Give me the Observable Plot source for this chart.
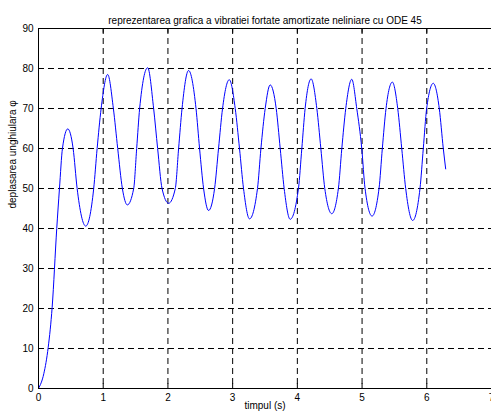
<!DOCTYPE html>
<html>
<head>
<meta charset="utf-8">
<script src="https://cdn.jsdelivr.net/npm/d3@7"></script>
<script src="https://cdn.jsdelivr.net/npm/@observablehq/plot@0.6"></script>
<style>
  html, body { margin: 0; padding: 0; background: #fff; }
  #chart svg { display: block; }
</style>
</head>
<body>
<div id="chart"></div>
<script>
const title = "reprezentarea grafica a vibratiei fortate amortizate neliniare cu ODE 45";
const xLabel = "timpul (s)";
const yLabel = "deplasarea unghiulara \u03C6";

const xTicks = [0, 1, 2, 3, 4, 5, 6, 7];
const yTicks = [0, 10, 20, 30, 40, 50, 60, 70, 80, 90];

const time = [
  0, 0.082, 0.150, 0.211, 0.282, 0.324, 0.370, 0.452,
  0.535, 0.597, 0.730, 0.853, 0.906, 0.968, 1.069,
  1.157, 1.224, 1.296, 1.373, 1.471, 1.517, 1.563, 1.687,
  1.779, 1.841, 1.909, 2.011, 2.114, 2.165, 2.218, 2.319,
  2.434, 2.489, 2.551, 2.628, 2.721, 2.782, 2.844, 2.948,
  3.040, 3.106, 3.168, 3.261, 3.384, 3.437, 3.503, 3.580,
  3.673, 3.735, 3.796, 3.889, 4.017, 4.069, 4.120, 4.213,
  4.301, 4.363, 4.424, 4.532, 4.634, 4.687, 4.748, 4.841,
  4.918, 4.995, 5.046, 5.154, 5.262, 5.313, 5.370, 5.468,
  5.551, 5.613, 5.674, 5.782, 5.895, 5.946, 5.998, 6.100,
  6.193, 6.255, 6.292
];
const phi = [
  0, 3.7, 10.3, 20.3, 40, 50, 60, 64.9,
  60, 50, 40.6, 50, 60, 70, 78.5,
  70, 60, 50, 45.9, 50, 60, 70, 80.2,
  70, 60, 50, 46.3, 50, 60, 70, 79.5,
  70, 60, 50, 44.5, 50, 60, 70, 77.2,
  70, 60, 50, 42.4, 50, 60, 70, 75.9,
  70, 60, 50, 42.3, 50, 60, 70, 77.4,
  70, 60, 50, 43.7, 50, 60, 70, 77.3,
  70, 60, 50, 43.1, 50, 60, 70, 76.6,
  70, 60, 50, 42.0, 50, 60, 70, 76.3,
  70, 60, 54.9
];

const data = time.map((t, i) => ({t, v: phi[i]}));
const font = "'Liberation Sans', Arial, Helvetica, sans-serif";

const chart = Plot.plot({
  width: 491,
  height: 415,
  marginLeft: 38,
  marginRight: 0,
  marginTop: 28,
  marginBottom: 27,
  style: {fontFamily: font, fontSize: "10px", color: "#000", background: "#fff"},
  x: {domain: [0, 7], ticks: xTicks, label: null},
  y: {domain: [0, 90], ticks: yTicks, label: null},
  marks: [
    Plot.ruleX(xTicks.slice(1, -1), {stroke: "#000", strokeWidth: 1, strokeDasharray: "6,4"}),
    Plot.ruleY(yTicks.slice(1, -1), {stroke: "#000", strokeWidth: 1, strokeDasharray: "6,4"}),
    Plot.ruleX(xTicks, {y1: 0, y2: 1.2, stroke: "#000"}),
    Plot.ruleX(xTicks, {y1: 88.8, y2: 90, stroke: "#000"}),
    Plot.ruleY(yTicks, {x1: 0, x2: 0.07, stroke: "#000"}),
    Plot.line(data, {x: "t", y: "v", stroke: "#0000ff", strokeWidth: 1, curve: "monotone-x"}),
    Plot.frame({stroke: "#000", strokeWidth: 1}),
    Plot.axisX(xTicks, {tickSize: 0, tickPadding: 5, label: null, fontSize: 10}),
    Plot.axisY(yTicks, {tickSize: 0, tickPadding: 5, label: null, fontSize: 10}),
    Plot.text([title], {frameAnchor: "top", dy: -12, fontSize: 10, fill: "#000"}),
    Plot.text([xLabel], {frameAnchor: "bottom", dy: 20, fontSize: 10, fill: "#000"}),
    Plot.text([yLabel], {frameAnchor: "left", dx: -26, rotate: -90, fontSize: 10, fill: "#000"})
  ]
});
document.getElementById("chart").appendChild(chart);
</script>
</body>
</html>
